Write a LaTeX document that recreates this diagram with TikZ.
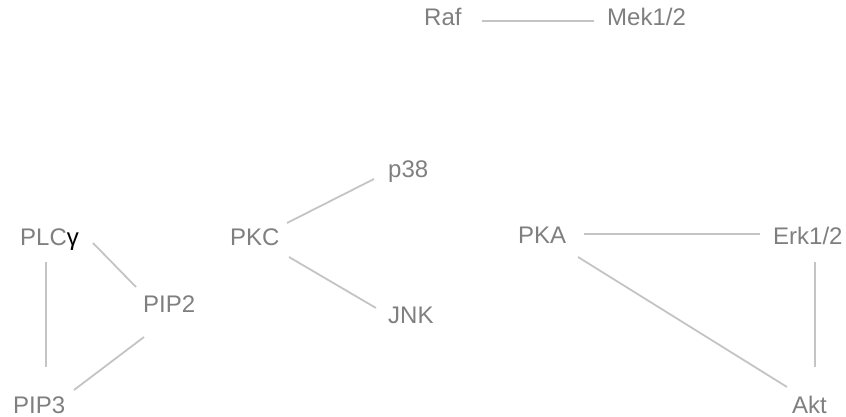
\documentclass[tikz,border=0pt]{standalone}
\usepackage{fontspec}
\setmainfont{Liberation Sans}
\definecolor{txtgray}{HTML}{7F7F7F}
\definecolor{edgegray}{HTML}{C4C4C4}
\begin{document}
\begin{tikzpicture}[x=1pt,y=-1pt,
  lbl/.style={anchor=base west,inner sep=0pt,text=txtgray,font=\fontsize{24}{24}\selectfont},
  edge/.style={draw=edgegray,line width=1.8pt}]
\useasboundingbox (0,0) rectangle (846,417);
\node[lbl] (Raf) at (424,26) {Raf};
\node[lbl] (Mek) at (607,26) {Mek1/2};
\node[lbl] (PLC) at (20,245) {PLC\textcolor{black}{γ}};
\node[lbl] (PKC) at (230,245) {PKC};
\node[lbl] (PKA) at (518,243) {PKA};
\node[lbl] (Erk) at (773,244) {Erk1/2};
\node[lbl] (PIP2) at (143,312) {PIP2};
\node[lbl] (p38) at (388,177) {p38};
\node[lbl] (JNK) at (388,323) {JNK};
\node[lbl] (PIP3) at (13,413) {PIP3};
\node[lbl] (Akt) at (792,413) {Akt};
\draw[edge] ([shift={(58,-5)}]Raf.base west) -- ([shift={(-13,-5)}]Mek.base west);
\draw[edge] ([shift={(26,17)}]PLC.base west) -- ([shift={(33,-46)}]PIP3.base west);
\draw[edge] ([shift={(73,-2)}]PLC.base west) -- ([shift={(-7,-25)}]PIP2.base west);
\draw[edge] ([shift={(1,25)}]PIP2.base west) -- ([shift={(61,-23)}]PIP3.base west);
\draw[edge] ([shift={(57,-22)}]PKC.base west) -- ([shift={(-14,2)}]p38.base west);
\draw[edge] ([shift={(59,12)}]PKC.base west) -- ([shift={(-12,-15)}]JNK.base west);
\draw[edge] ([shift={(66,-9)}]PKA.base west) -- ([shift={(-13,-10)}]Erk.base west);
\draw[edge] ([shift={(42,18)}]Erk.base west) -- ([shift={(23,-46)}]Akt.base west);
\draw[edge] ([shift={(60,14)}]PKA.base west) -- ([shift={(-5,-26)}]Akt.base west);
\end{tikzpicture}
\end{document}
